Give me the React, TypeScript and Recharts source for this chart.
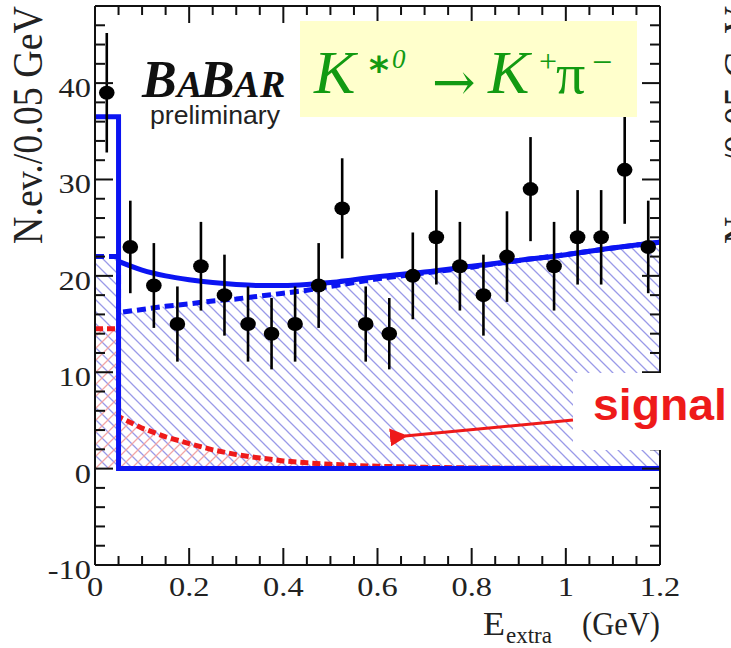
import React from "react";
import { ComposedChart, Area, Line, Scatter, ErrorBar, XAxis, YAxis } from "recharts";

// measured bins (0.05 GeV wide)
const binCenters = [0.025, 0.075, 0.125, 0.175, 0.225, 0.275, 0.325, 0.375, 0.425, 0.475, 0.525, 0.575, 0.625, 0.675, 0.725, 0.775, 0.825, 0.875, 0.925, 0.975, 1.025, 1.075, 1.125, 1.175];
const counts = [39, 23, 19, 15, 21, 18, 15, 14, 15, 19, 27, 15, 14, 20, 24, 21, 18, 22, 29, 21, 24, 24, 31, 23];
const countErrors = [6.2, 4.8, 4.4, 3.9, 4.6, 4.2, 3.9, 3.7, 3.9, 4.4, 5.2, 3.9, 3.7, 4.5, 4.9, 4.6, 4.2, 4.7, 5.4, 4.6, 4.9, 4.9, 5.6, 4.8];

// fit curves after the first bin
const fitX = [0.05, 0.1, 0.15, 0.2, 0.25, 0.3, 0.35, 0.4, 0.45, 0.5, 0.55, 0.6, 0.7, 0.8, 0.9, 1.0, 1.1, 1.2];
const totalFit = [21.5, 20.6, 20.0, 19.6, 19.3, 19.1, 19.0, 19.0, 19.1, 19.3, 19.6, 19.9, 20.4, 21.0, 21.6, 22.2, 22.9, 23.5];
const bkgFit = [16.2, 16.5, 16.85, 17.1, 17.4, 17.6, 17.9, 18.2, 18.5, 18.9, 19.3, 19.7, 20.3, 20.9, 21.6, 22.2, 22.9, 23.5];
const sigFit = [5.4, 4.2, 3.3, 2.6, 1.95, 1.45, 1.1, 0.8, 0.6, 0.45, 0.33, 0.25, 0.13, 0.07, 0.04, 0.02, 0.01, 0];

// first bin (0 - 0.05 GeV)
const firstBinEdges = [0, 0.05];
const firstBinBkg = 22;
const firstBinSig = 14.5;
const firstBinTotal = 36.5;
const xMax = 1.2;

const xTicks = [0, 0.05, 0.1, 0.15, 0.2, 0.25, 0.3, 0.35, 0.4, 0.45, 0.5, 0.55, 0.6, 0.65, 0.7, 0.75, 0.8, 0.85, 0.9, 0.95, 1, 1.05, 1.1, 1.15, 1.2];
const yTicks = [-10, -8, -6, -4, -2, 0, 2, 4, 6, 8, 10, 12, 14, 16, 18, 20, 22, 24, 26, 28, 30, 32, 34, 36, 38, 40, 42, 44, 46, 48];

const points = binCenters.map((x, i) => ({ x, y: counts[i], err: countErrors[i] }));
const bkgData = [
  { x: firstBinEdges[0], y: firstBinBkg },
  { x: firstBinEdges[1], y: firstBinBkg },
  ...fitX.map((x, i) => ({ x, y: bkgFit[i] })),
];
const sigData = [
  { x: firstBinEdges[0], y: firstBinSig },
  { x: firstBinEdges[1], y: firstBinSig },
  ...fitX.map((x, i) => ({ x, y: sigFit[i] })),
];
const stepData = [
  { x: firstBinEdges[0], y: firstBinTotal },
  { x: firstBinEdges[1], y: firstBinTotal },
  { x: firstBinEdges[1], y: 0 },
  { x: xMax, y: 0 },
];
const totalData = fitX.map((x, i) => ({ x, y: totalFit[i] }));

const SERIF = "'Liberation Serif', 'Times New Roman', serif";
const SANS = "'Liberation Sans', Arial, sans-serif";
const BLUE = "#0b14f2";
const RED = "#ee1a1a";
const GREEN = "#129a12";
const AXIS = "#111";

const isMajor = (v: number, step: number) => Math.abs(v / step - Math.round(v / step)) < 1e-6;

function BottomTick({ x, y, payload }: any) {
  const v = payload.value;
  const major = isMajor(v, 0.2);
  return (
    <g>
      <line x1={x} y1={y} x2={x} y2={y - (major ? 17 : 9)} stroke={AXIS} strokeWidth={2} />
      {major && (
        <text transform={`translate(${x},${y + 31}) scale(1.2,1)`} textAnchor="middle" fontFamily={SERIF} fontSize={27} fill="#222">
          {String(v)}
        </text>
      )}
    </g>
  );
}

function TopTick({ x, y, payload }: any) {
  const major = isMajor(payload.value, 0.2);
  return <line x1={x} y1={y} x2={x} y2={y + (major ? 17 : 9)} stroke={AXIS} strokeWidth={2} />;
}

function LeftTick({ x, y, payload }: any) {
  const v = payload.value;
  const major = isMajor(v, 10);
  return (
    <g>
      <line x1={x} y1={y} x2={x + (major ? 18 : 10)} y2={y} stroke={AXIS} strokeWidth={2} />
      {major && (
        <text transform={`translate(${x - 4},${y + 14}) scale(1.2,1)`} textAnchor="end" fontFamily={SERIF} fontSize={27} fill="#222">
          {String(v)}
        </text>
      )}
    </g>
  );
}

function RightTick({ x, y, payload }: any) {
  const major = isMajor(payload.value, 10);
  return <line x1={x} y1={y} x2={x - (major ? 18 : 10)} y2={y} stroke={AXIS} strokeWidth={2} />;
}

export default function App() {
  return (
    <div style={{ position: "absolute", left: 0, top: 0, width: 731, height: 648, background: "#fff" }}>
      <ComposedChart width={731} height={648} margin={{ top: 5, right: 70, bottom: 82, left: 94 }}>
        <defs>
          <pattern id="blueHatch" patternUnits="userSpaceOnUse" width={12} height={12}>
            <path d="M-3,9 L3,15 M0,0 L12,12 M9,-3 L15,3" stroke="#9a9ae8" strokeWidth={1.3} />
          </pattern>
          <pattern id="redHatch" patternUnits="userSpaceOnUse" width={12} height={12}>
            <path d="M-3,3 L3,-3 M0,12 L12,0 M9,15 L15,9" stroke="#f2a6a6" strokeWidth={1.3} />
          </pattern>
        </defs>
        <XAxis
          dataKey="x"
          type="number"
          domain={[0, 1.2]}
          allowDataOverflow
          ticks={xTicks}
          interval={0}
          height={1}
          tickSize={0}
          tickMargin={0}
          axisLine={{ stroke: AXIS, strokeWidth: 2 }}
          tick={(p: any) => <BottomTick {...p} />}
        />
        <XAxis
          xAxisId="top"
          orientation="top"
          dataKey="x"
          type="number"
          domain={[0, 1.2]}
          allowDataOverflow
          ticks={xTicks}
          interval={0}
          height={1}
          tickSize={0}
          tickMargin={0}
          axisLine={{ stroke: AXIS, strokeWidth: 2 }}
          tick={(p: any) => <TopTick {...p} />}
        />
        <YAxis
          type="number"
          domain={[-10, 48]}
          allowDataOverflow
          ticks={yTicks}
          interval={0}
          width={1}
          tickSize={0}
          tickMargin={0}
          axisLine={{ stroke: AXIS, strokeWidth: 2 }}
          tick={(p: any) => <LeftTick {...p} />}
        />
        <YAxis
          yAxisId="right"
          orientation="right"
          type="number"
          domain={[-10, 48]}
          allowDataOverflow
          ticks={yTicks}
          interval={0}
          width={1}
          tickSize={0}
          tickMargin={0}
          axisLine={{ stroke: AXIS, strokeWidth: 2 }}
          tick={(p: any) => <RightTick {...p} />}
        />
        <Area
          data={bkgData}
          dataKey="y"
          type="linear"
          baseValue={0}
          stroke={BLUE}
          strokeWidth={5}
          strokeDasharray="9 5"
          fill="url(#blueHatch)"
          fillOpacity={1}
          isAnimationActive={false}
          activeDot={false}
        />
        <Area
          data={sigData}
          dataKey="y"
          type="linear"
          baseValue={0}
          stroke={RED}
          strokeWidth={5}
          strokeDasharray="8 4"
          fill="url(#redHatch)"
          fillOpacity={1}
          isAnimationActive={false}
          activeDot={false}
        />
        <Line data={stepData} dataKey="y" type="linear" stroke={BLUE} strokeWidth={5} dot={false} activeDot={false} isAnimationActive={false} />
        <Line data={totalData} dataKey="y" type="monotone" stroke={BLUE} strokeWidth={5} dot={false} activeDot={false} isAnimationActive={false} />
        <Scatter
          data={points}
          dataKey="y"
          fill="#000"
          isAnimationActive={false}
          shape={(p: any) => <ellipse cx={p.cx} cy={p.cy} rx={7.8} ry={7} fill="#000" />}
        >
          <ErrorBar dataKey="err" direction="y" width={0} stroke="#000" strokeWidth={2.6} />
        </Scatter>
      </ComposedChart>

      <svg width={731} height={648} style={{ position: "absolute", left: 0, top: 0, pointerEvents: "none" }}>
        <defs>
          <marker id="arrowHead" markerWidth={6} markerHeight={6} refX={1} refY={3} orient="auto" markerUnits="strokeWidth">
            <path d="M6,0 L0,3 L6,6 Z" fill={RED} />
          </marker>
        </defs>
        {/* axis titles */}
        <text transform="translate(42,125) scale(1.12,1) rotate(-90)" textAnchor="middle" fontFamily={SERIF} fontSize={38} fill="#222" textLength={238} lengthAdjust="spacingAndGlyphs">
          N.ev./0.05 GeV
        </text>
        <text transform="translate(753,125) scale(1.12,1) rotate(-90)" textAnchor="middle" fontFamily={SERIF} fontSize={38} fill="#222" textLength={238} lengthAdjust="spacingAndGlyphs">
          N.ev./0.05 GeV
        </text>
        <text x={483} y={635} fontFamily={SERIF} fontSize={34} fill="#222" textLength={22} lengthAdjust="spacingAndGlyphs">E</text>
        <text x={506} y={643} fontFamily={SERIF} fontSize={23} fill="#222" textLength={46} lengthAdjust="spacingAndGlyphs">extra</text>
        <text x={582} y={635} fontFamily={SERIF} fontSize={34} fill="#222" textLength={78} lengthAdjust="spacingAndGlyphs">(GeV)</text>

        {/* BaBar logo */}
        <text y={97} fontFamily={SERIF} fontWeight="bold" fontStyle="italic" fill="#111">
          <tspan x={142} fontSize={52}>B</tspan>
          <tspan x={177} fontSize={38}>A</tspan>
          <tspan x={200} fontSize={52}>B</tspan>
          <tspan x={234} fontSize={38}>A</tspan>
          <tspan x={260} fontSize={38}>R</tspan>
        </text>
        <text x={150} y={124} fontFamily={SANS} fontSize={25} fill="#222" textLength={130} lengthAdjust="spacingAndGlyphs">
          preliminary
        </text>

        {/* decay label */}
        <rect x={300} y={21} width={337} height={96} fill="#ffffcc" />
        <text y={93} fontFamily={SERIF} fontSize={62} fill={GREEN}>
          <tspan x={314} fontStyle="italic">K</tspan>
          <tspan x={369} y={83} fontSize={38} fontWeight="bold" fontFamily="'DejaVu Sans', sans-serif">*</tspan>
          <tspan x={392} y={68} fontSize={27} fontStyle="italic">0</tspan>
          <tspan x={432} y={100} fontSize={52} fontFamily="'DejaVu Serif', serif">→</tspan>
          <tspan x={488} y={93} fontStyle="italic">K</tspan>
          <tspan x={539} y={72} fontSize={32}>+</tspan>
          <tspan x={556} y={93} fontSize={58}>π</tspan>
          <tspan x={592} y={74} fontSize={36}>−</tspan>
        </text>

        {/* signal annotation */}
        <rect x={573} y={373} width={160} height={77} fill="#fff" />
        <text x={593} y={420} fontFamily={SANS} fontWeight="bold" fontSize={44} fill={RED} textLength={134} lengthAdjust="spacingAndGlyphs">
          signal
        </text>
        <line x1={573} y1={420} x2={405} y2={436} stroke={RED} strokeWidth={3} markerEnd="url(#arrowHead)" />
      </svg>
    </div>
  );
}
